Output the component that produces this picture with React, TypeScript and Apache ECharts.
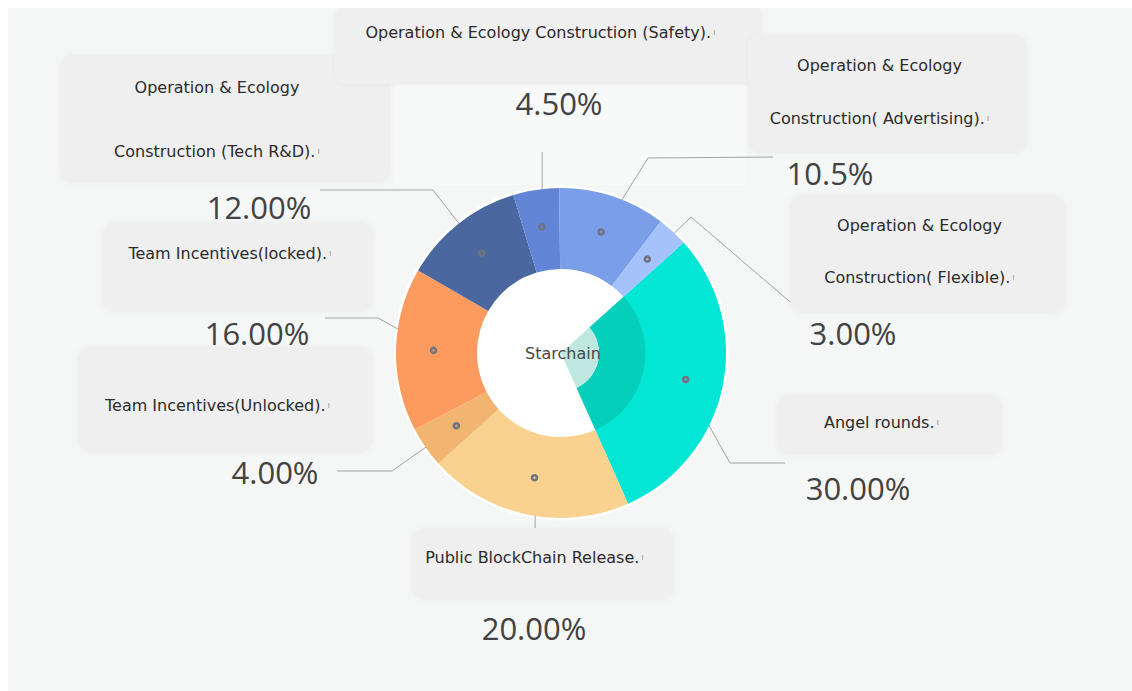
import React, { useEffect, useRef } from 'react';
import * as echarts from 'echarts';

// ---------- data ----------
const categories = [
  'Angel rounds',
  'Public BlockChain Release',
  'Team Incentives(Unlocked)',
  'Team Incentives(locked)',
  'Operation & Ecology Construction (Tech R&D)',
  'Operation & Ecology Construction (Safety)',
  'Operation & Ecology Construction( Advertising)',
  'Operation & Ecology Construction( Flexible)',
];
const values = [30, 20, 4, 16, 12, 4.5, 10.5, 3];
const percentLabels = ['30.00%', '20.00%', '4.00%', '16.00%', '12.00%', '4.50%', '10.5%', '3.00%'];
const nameLines = [
  ['Angel rounds.'],
  ['Public BlockChain Release.'],
  ['Team Incentives(Unlocked).'],
  ['Team Incentives(locked).'],
  ['Operation & Ecology', 'Construction (Tech R&D).'],
  ['Operation & Ecology Construction (Safety).'],
  ['Operation & Ecology', 'Construction( Advertising).'],
  ['Operation & Ecology', 'Construction( Flexible).'],
];
const centerName = 'Starchain';

// ---------- styles / layout ----------
const sliceColors = ['#02e6d5', '#f9d290', '#f1b571', '#fd9b5f', '#4a67a0', '#6285d6', '#7b9ee8', '#a5c3fa'];
const coreColors = ['#03cfba', 'transparent', 'transparent', 'transparent', 'transparent', 'transparent', 'transparent', 'transparent'];
const hubColors = ['#bfe8e1', 'transparent', 'transparent', 'transparent', 'transparent', 'transparent', 'transparent', 'transparent'];

const CX = 553;
const CY = 345;
const R_IN = 84;
const R_OUT = 165;
const R_MID = (R_IN + R_OUT) / 2;
const START_ANGLE = 42;

// percent label centre positions
const percentPos = [
  [850, 480], [526, 620], [267, 464], [249, 325],
  [251, 199], [551, 95], [822, 165], [845, 325],
];
// leader line bends (null x = same x as the marker)
const leaderPath: (number | null)[][][] = [
  [[722, 455], [777, 455]],
  [[null, 520]],
  [[384, 463], [329, 463]],
  [[370, 310], [317, 310]],
  [[425, 182], [312, 182]],
  [[null, 144]],
  [[640, 150], [765, 149]],
  [[683, 209], [795, 305]],
];
// name boxes: centre x, top, width, height, lineHeight, padTop
const boxLayout = [
  [881.5, 387, 225, 60, 20, 17],
  [534.5, 520, 261, 72, 20, 19],
  [217.5, 339, 295, 105, 20, 48],
  [230, 214, 270, 90, 20, 21],
  [217, 47, 330, 128, 64, 0],
  [540.5, -3, 427, 79, 20, 17],
  [879.5, 27, 279, 118, 53, 3.5],
  [919.5, 187, 275, 118, 52, 4],
];

const NAME_FONT = 'DejaVu Sans';
const PCT_FONT = 'Open Sans';

export default function App() {
  const ref = useRef<HTMLDivElement>(null);

  useEffect(() => {
    document.body.style.overflow = 'hidden';
    if (!ref.current) return;
    const chart = echarts.init(ref.current, undefined, { renderer: 'svg' });

    const baseData = categories.map((name, i) => ({ name, value: values[i] }));

    const boxData = categories.map((name, i) => {
      const [, , w, h, lh, pt] = boxLayout[i];
      const n = nameLines[i].length;
      const pb = Math.max(0, h - pt - n * lh);
      return {
        name,
        value: values[i],
        label: {
          width: w - 16,
          lineHeight: lh,
          padding: [pt, 16, pb, 0],
          rich: {
            m: { fontSize: 9, color: '#9a9a9a', lineHeight: lh, fontFamily: NAME_FONT, padding: [0, 0, 0, 2] },
          },
        },
      };
    });

    const option: any = {
      animation: false,
      backgroundColor: '#f5f7f7',
      graphic: [
        {
          type: 'rect',
          z: 0,
          shape: { x: 387, y: 77, width: 352, height: 100 },
          style: { fill: '#f8f9f9' },
          silent: true,
        },
        {
          type: 'circle',
          z: 1,
          shape: { cx: CX, cy: CY, r: R_OUT + 2.5 },
          style: { fill: '#ffffff' },
          silent: true,
        },
        {
          type: 'text',
          z: 100,
          x: CX + 2,
          y: CY,
          style: {
            text: centerName,
            fill: '#474747',
            font: `16px "${NAME_FONT}"`,
            textAlign: 'center',
            textVerticalAlign: 'middle',
          },
          silent: true,
        },
      ],
      series: [
        // main ring with percentage labels and leader lines
        {
          type: 'pie',
          z: 2,
          center: [CX, CY],
          radius: [R_IN, R_OUT],
          startAngle: START_ANGLE,
          avoidLabelOverlap: false,
          silent: true,
          data: baseData.map((d, i) => ({ ...d, itemStyle: { color: sliceColors[i] } })),
          label: {
            show: true,
            position: 'outside',
            formatter: (p: any) => percentLabels[p.dataIndex],
            fontFamily: PCT_FONT,
            fontSize: 31,
            color: '#424242',
          },
          labelLine: {
            show: true,
            length: 10,
            length2: 10,
            lineStyle: { color: '#a3a3a3', width: 1 },
          },
          labelLayout: (params: any) => {
            const i = params.dataIndex;
            const lp = params.labelLinePoints;
            let mx = CX;
            let my = CY;
            if (lp && lp[0]) {
              const dx = lp[0][0] - CX;
              const dy = lp[0][1] - CY;
              const len = Math.sqrt(dx * dx + dy * dy) || 1;
              mx = CX + (dx / len) * R_MID;
              my = CY + (dy / len) * R_MID;
            }
            const pts = [[mx, my]].concat(
              leaderPath[i].map((p) => [p[0] == null ? mx : (p[0] as number), p[1] as number])
            );
            return {
              x: percentPos[i][0],
              y: percentPos[i][1],
              align: 'center',
              verticalAlign: 'middle',
              labelLinePoints: pts,
            };
          },
        },
        // inner core (angel rounds)
        {
          type: 'pie',
          z: 3,
          center: [CX, CY],
          radius: [38, R_IN + 0.5],
          startAngle: START_ANGLE,
          silent: true,
          label: { show: false },
          labelLine: { show: false },
          data: baseData.map((d, i) => ({ ...d, itemStyle: { color: coreColors[i] } })),
        },
        {
          type: 'pie',
          z: 3,
          center: [CX, CY],
          radius: [0, 38],
          startAngle: START_ANGLE,
          silent: true,
          label: { show: false },
          labelLine: { show: false },
          data: baseData.map((d, i) => ({ ...d, itemStyle: { color: hubColors[i] } })),
        },
        // name boxes
        {
          type: 'pie',
          z: 2,
          center: [CX, CY],
          radius: [R_IN, R_OUT],
          startAngle: START_ANGLE,
          silent: true,
          avoidLabelOverlap: false,
          itemStyle: { color: 'transparent' },
          data: boxData,
          label: {
            show: true,
            position: 'center',
            formatter: (p: any) => nameLines[p.dataIndex].join('\n') + '{m|ı}',
            fontFamily: NAME_FONT,
            fontSize: 16,
            color: '#2b2b2b',
            backgroundColor: '#efefef',
            borderRadius: 12,
            shadowColor: 'rgba(0,0,0,0.04)',
            shadowBlur: 6,
          },
          labelLine: { show: false },
          labelLayout: (params: any) => {
            const i = params.dataIndex;
            return { x: boxLayout[i][0], y: boxLayout[i][1], align: 'center', verticalAlign: 'top' };
          },
        },
        // slice markers
        {
          type: 'pie',
          z: 6,
          center: [CX, CY],
          radius: [R_IN, R_OUT],
          startAngle: START_ANGLE,
          silent: true,
          itemStyle: { color: 'transparent' },
          data: baseData,
          label: {
            show: true,
            position: 'inside',
            formatter: ' ',
            fontSize: 1,
            width: 5,
            height: 5,
            padding: 0,
            borderColor: '#6f7480',
            borderWidth: 1.3,
            borderRadius: 5,
            backgroundColor: 'transparent',
          },
          labelLine: { show: false },
        },
      ],
    };

    chart.setOption(option);
    return () => chart.dispose();
  }, []);

  return (
    <div
      ref={ref}
      style={{ position: 'fixed', left: 8, top: 8, width: 1124, height: 683 }}
    />
  );
}
